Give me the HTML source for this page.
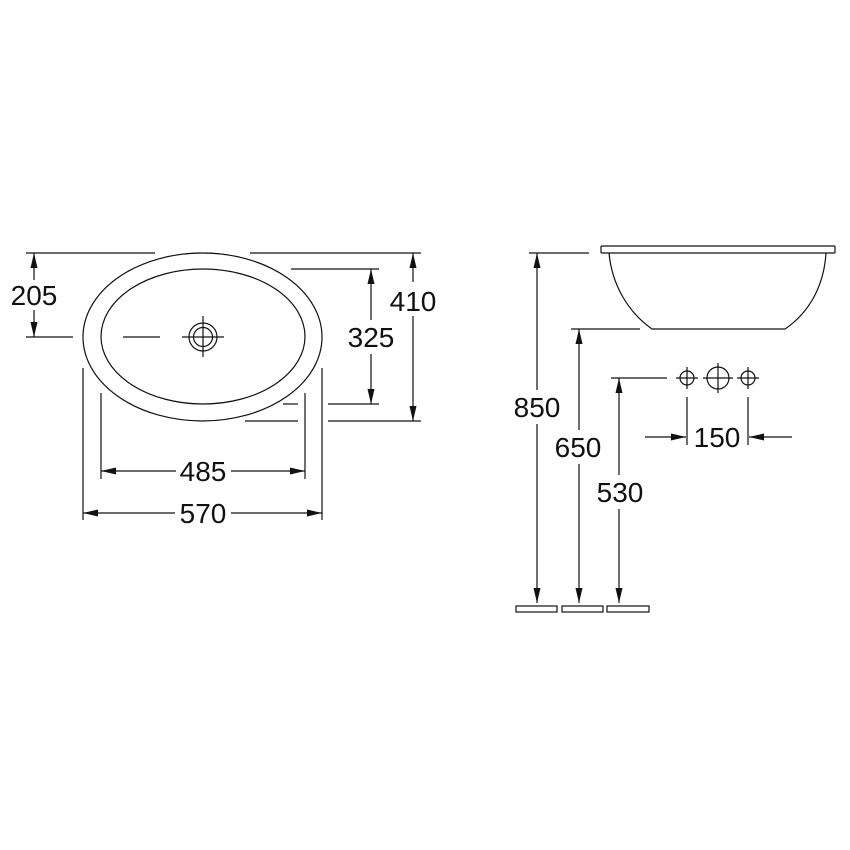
<!DOCTYPE html>
<html><head><meta charset="utf-8"><style>
html,body{margin:0;padding:0;background:#fff}
svg{display:block}
text{font-family:"Liberation Sans",Arial,sans-serif;font-size:28px;fill:#111}
</style></head><body>
<svg width="850" height="850" viewBox="0 0 850 850" xmlns="http://www.w3.org/2000/svg">
<defs>
<marker id="a" markerUnits="userSpaceOnUse" markerWidth="16" markerHeight="10" refX="15" refY="4" orient="auto-start-reverse">
<path d="M0,0.5 L15,4 L0,7.5 Z" fill="#111"/>
</marker>
</defs>
<g stroke="#111" stroke-width="1.2" fill="none">
<ellipse cx="202.5" cy="337" rx="119.5" ry="84"/>
<ellipse cx="203" cy="336.5" rx="102" ry="67.5"/>
<circle cx="203" cy="337" r="14"/>
<circle cx="203" cy="337" r="9.5"/>
<line x1="182" y1="337" x2="224" y2="337"/>
<line x1="203" y1="316" x2="203" y2="357"/>
<line x1="26" y1="337" x2="73" y2="337"/>
<line x1="123" y1="337" x2="160" y2="337"/>
<line x1="26" y1="253" x2="155" y2="253"/>
<line x1="250" y1="253" x2="421" y2="253"/>
<line x1="291" y1="269" x2="379" y2="269"/>
<line x1="283" y1="404" x2="298" y2="404"/>
<line x1="328" y1="404" x2="379" y2="404"/>
<line x1="245" y1="421" x2="298" y2="421"/>
<line x1="328" y1="421" x2="421" y2="421"/>
<line x1="101" y1="393" x2="101" y2="479"/>
<line x1="305" y1="393" x2="305" y2="479"/>
<line x1="83" y1="368" x2="83" y2="520"/>
<line x1="322" y1="368" x2="322" y2="520"/>
<line x1="34" y1="253" x2="34" y2="280" marker-start="url(#a)"/>
<line x1="34" y1="310" x2="34" y2="337" marker-end="url(#a)"/>
<line x1="371" y1="269" x2="371" y2="320" marker-start="url(#a)"/>
<line x1="371" y1="354" x2="371" y2="404" marker-end="url(#a)"/>
<line x1="413" y1="253" x2="413" y2="282" marker-start="url(#a)"/>
<line x1="413" y1="316" x2="413" y2="421" marker-end="url(#a)"/>
<line x1="101" y1="471" x2="176" y2="471" marker-start="url(#a)"/>
<line x1="231" y1="471" x2="305" y2="471" marker-end="url(#a)"/>
<line x1="83" y1="513" x2="175" y2="513" marker-start="url(#a)"/>
<line x1="231" y1="513" x2="322" y2="513" marker-end="url(#a)"/>
<rect x="601" y="246" width="234" height="7" rx="1"/>
<path d="M609,253 C612,285 628,312 652,329 L785,329 C810,312 824,285 826,253"/>
<line x1="529" y1="253" x2="589" y2="253"/>
<line x1="571" y1="329" x2="640" y2="329"/>
<line x1="611" y1="378" x2="667" y2="378"/>
<line x1="537" y1="253" x2="537" y2="390" marker-start="url(#a)"/>
<line x1="537" y1="424" x2="537" y2="603" marker-end="url(#a)"/>
<line x1="579" y1="329" x2="579" y2="430" marker-start="url(#a)"/>
<line x1="579" y1="464" x2="579" y2="603" marker-end="url(#a)"/>
<line x1="619" y1="378" x2="619" y2="475" marker-start="url(#a)"/>
<line x1="619" y1="509" x2="619" y2="603" marker-end="url(#a)"/>
<circle cx="687" cy="378" r="7"/>
<line x1="676" y1="378" x2="698" y2="378"/><line x1="687" y1="367" x2="687" y2="389"/>
<circle cx="718" cy="378" r="11"/>
<line x1="703" y1="378" x2="733" y2="378"/><line x1="718" y1="363" x2="718" y2="393"/>
<circle cx="748" cy="378" r="7"/>
<line x1="737" y1="378" x2="759" y2="378"/><line x1="748" y1="367" x2="748" y2="389"/>
<line x1="687" y1="397" x2="687" y2="445"/>
<line x1="748" y1="397" x2="748" y2="445"/>
<line x1="645" y1="437" x2="686" y2="437" marker-end="url(#a)"/>
<line x1="792" y1="437" x2="749" y2="437" marker-end="url(#a)"/>
<rect x="516" y="606" width="41" height="6"/>
<rect x="562" y="606" width="41" height="6"/>
<rect x="607" y="606" width="42" height="6"/>
</g>
<g stroke="none">
<text x="34" y="305" text-anchor="middle">205</text>
<text x="371" y="347" text-anchor="middle">325</text>
<text x="413" y="311" text-anchor="middle">410</text>
<text x="203" y="481" text-anchor="middle">485</text>
<text x="203" y="523" text-anchor="middle">570</text>
<text x="537" y="417" text-anchor="middle">850</text>
<text x="578" y="457" text-anchor="middle">650</text>
<text x="620" y="502" text-anchor="middle">530</text>
<text x="717" y="447" text-anchor="middle">150</text>
</g>
</svg>
</body></html>
